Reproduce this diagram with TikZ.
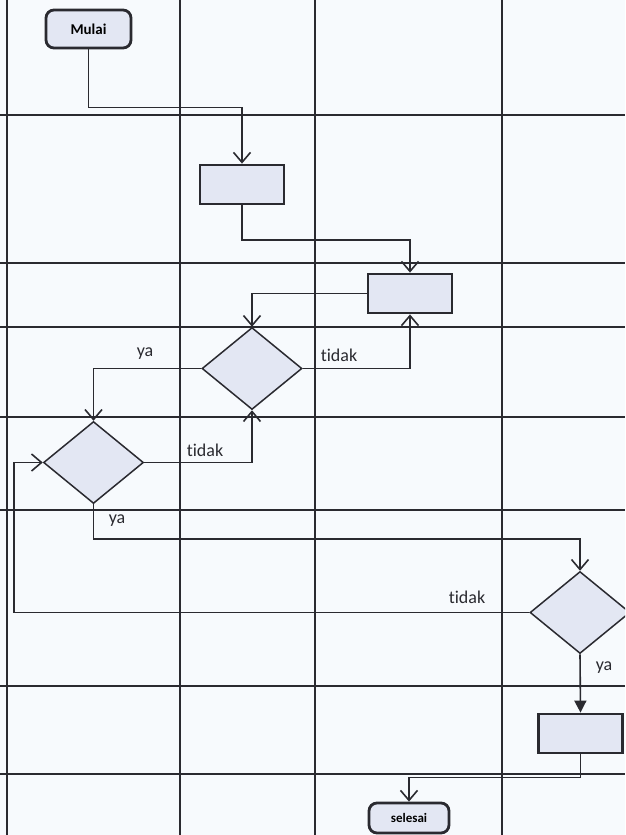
\documentclass[tikz,border=0pt]{standalone}
\usepackage{fontspec}
\setmainfont{Carlito}[Ligatures=NoCommon]
\usetikzlibrary{shapes.geometric,arrows.meta}
\definecolor{ink}{HTML}{2A2A30}
\definecolor{boxfill}{HTML}{E3E7F3}
\definecolor{paper}{HTML}{F7FAFD}
\tikzset{
  gridline/.style={draw=ink,line width=1.8pt},
  conn/.style={draw=ink,line width=1.6pt},
  arr/.style={conn,-{Straight Barb[length=10pt,width=17pt,line width=1.6pt]}},
  farr/.style={conn,-{Triangle[length=12pt,width=12pt]}},
  procbox/.style={draw=ink,fill=boxfill,line width=2.8pt,minimum width=84pt,minimum height=39pt,inner sep=0pt},
  termbox/.style={draw=ink,fill=boxfill,line width=2.8pt,rounded corners=8pt,inner sep=0pt,font=\bfseries},
  decis/.style={diamond,draw=ink,fill=boxfill,line width=1.5pt,minimum width=100pt,minimum height=82pt,inner sep=0pt},
  lbl/.style={font=\fontsize{18}{20}\selectfont,text=ink,inner sep=0pt}
}
\begin{document}
\begin{tikzpicture}[x=1pt,y=-1pt]
\useasboundingbox (0,0) rectangle (625,835);
\clip (0,0) rectangle (625,835);
\fill[paper] (0,0) rectangle (625,835);
% grid
\foreach \gx in {7,180,315,502} \draw[gridline] (\gx,0) -- (\gx,835);
\foreach \gy in {115,263,327,417,510,686,774} \draw[gridline] (0,\gy) -- (625,\gy);
% nodes
\node[termbox,minimum width=85pt,minimum height=38pt,font=\bfseries\fontsize{15}{17}\selectfont] (mulai) at (88.5,29) {Mulai};
\node[procbox] (b1) at (242,184.5) {};
\node[procbox] (b2) at (410,293.5) {};
\node[decis] (d1) at (252,368.5) {};
\node[decis] (d2) at (93.5,462.5) {};
\node[decis] (d3) at (580,612.5) {};
\node[procbox] (b3) at (580.5,733.5) {};
\node[termbox,minimum width=80pt,minimum height=30pt,font=\bfseries\fontsize{13}{15}\selectfont] (selesai) at (409,818) {selesai};
\coordinate (lp) at (14,612.5);
% connectors
\draw[arr] (mulai.south) -- ++(0,58) -| (b1.north);
\draw[arr] (b1.south) -- ++(0,34.5) -| (b2.north);
\draw[arr] (b2.west) -| (d1.north);
\draw[arr] (d1.east) -| (b2.south);
\draw[arr] (d1.west) -| (d2.north);
\draw[arr] (d2.east) -| (d1.south);
\draw[arr] (d2.south) -- ++(0,34.5) -| (d3.north);
\draw[arr] (d3.west) -- (lp) |- (d2.west);
\draw[farr] (d3.south) -- (b3.north);
\draw[arr] (b3.south) -- ++(0,23) -| (selesai.north);
% labels
\node[lbl] (l1) at (145,354) {ya};
\node[lbl] (l2) at (339,355) {tidak};
\node[lbl] (l3) at (205,450) {tidak};
\node[lbl] (l4) at (117,521) {ya};
\node[lbl] (l5) at (467,597) {tidak};
\node[lbl] (l6) at (604,668) {ya};
\end{tikzpicture}
\end{document}
